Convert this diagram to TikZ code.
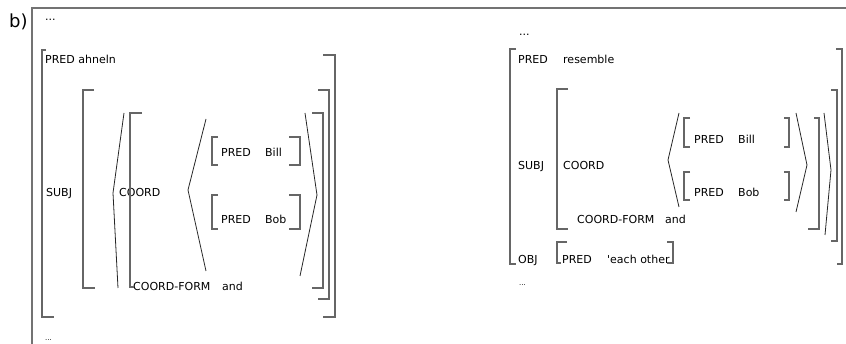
\documentclass[tikz,border=0pt]{standalone}
\usepackage{fontspec}
\setmainfont{DejaVu Sans}
\begin{document}
\begin{tikzpicture}[x=1pt,y=-1pt,
  txt/.style={anchor=base west,inner sep=0pt,font=\fontsize{11}{13}\selectfont},
  small/.style={anchor=base west,inner sep=0pt,font=\fontsize{7}{8}\selectfont},
  brk/.style={draw=black!60,line width=1.1pt},
  ang/.style={draw=black!85,line width=0.8pt},
  frame/.style={draw=black!55,line width=1.3pt}]
\useasboundingbox (0,0) rectangle (846,344);
% frame
\draw[frame] (32,344) -- (32,8) -- (846,8);
\node[anchor=base west,inner sep=0pt,font=\fontsize{18}{20}\selectfont] (lbl) at (9,28) {b)};
% ---------- left structure ----------
\node[txt] (ldots) at (45,21) {...};
\node[txt] (lpred) at (45,64) {PRED ahneln};
\node[txt] (lsubj) at (46,197) {SUBJ};
\node[txt] (lcoord) at (119,197) {COORD};
\node[txt] (lbillp) at (221,157) {PRED};
\node[txt] (lbill) at (265,157) {Bill};
\node[txt] (lbobp) at (221,224) {PRED};
\node[txt] (lbob) at (265,224) {Bob};
\node[txt] (lcf) at (133,291) {COORD-FORM};
\node[txt] (land) at (222,291) {and};
\node[small] (lbdots) at (45,341) {...};
% outer brackets
\draw[brk] (46,50) -- (42,50) -- (42,317) -- (54,317);
\draw[brk] (323,55) -- (335,55) -- (335,317) -- (323,317);
% SUBJ brackets
\draw[brk] (94,90) -- (83,90) -- (83,288) -- (95,288);
\draw[brk] (318,90) -- (329,90) -- (329,299) -- (318,299);
% outer angle (left)
\draw[ang] (124,113) -- (113,193) -- (118,288);
% COORD brackets
\draw[brk] (142,113) -- (130,113) -- (130,287) -- (134,287);
\draw[brk] (312,113) -- (323,113) -- (323,288) -- (312,288);
% inner angles
\draw[ang] (206,119) -- (188,190) -- (206,271);
\draw[ang] (305,113) -- (317,195) -- (300,276);
% Bill / Bob brackets
\draw[brk] (218,137) -- (212,137) -- (212,165) -- (218,165);
\draw[brk] (289,137) -- (300,137) -- (300,165) -- (289,165);
\draw[brk] (218,195) -- (212,195) -- (212,229) -- (218,229);
\draw[brk] (289,195) -- (300,195) -- (300,229) -- (289,229);
% ---------- right structure ----------
\node[txt] (rdots) at (519,36) {...};
\node[txt] (rpredp) at (518,64) {PRED};
\node[txt] (rpred) at (563,64) {resemble};
\node[txt] (rsubj) at (518,170) {SUBJ};
\node[txt] (rcoord) at (563,170) {COORD};
\node[txt] (rbillp) at (694,144) {PRED};
\node[txt] (rbill) at (738,144) {Bill};
\node[txt] (rbobp) at (694,197) {PRED};
\node[txt] (rbob) at (738,197) {Bob};
\node[txt] (rcf) at (577,224) {COORD-FORM};
\node[txt] (rand) at (665,224) {and};
\node[txt] (robj) at (518,264) {OBJ};
\node[txt] (robjp) at (562,264) {PRED};
\node[txt] (rec) at (607,264) {\textquotesingle each other};
\node[small] (rbdots) at (519,286) {...};
% outer brackets
\draw[brk] (516,49) -- (510,49) -- (510,264) -- (516,264);
\draw[brk] (836,49) -- (842,49) -- (842,264) -- (837,264);
% SUBJ bracket left and right
\draw[brk] (568,89) -- (557,89) -- (557,229) -- (568,229);
\draw[brk] (831,90) -- (837,90) -- (837,241) -- (831,241);
% COORD right bracket
\draw[brk] (814,118) -- (819,118) -- (819,229) -- (808,229);
% angles
\draw[ang] (679,113) -- (668,160) -- (679,207);
\draw[ang] (796,113) -- (807,165) -- (796,212);
\draw[ang] (824,113) -- (831,170) -- (825,235);
% Bill / Bob brackets
\draw[brk] (690,118) -- (684,118) -- (684,147) -- (690,147);
\draw[brk] (784,118) -- (789,118) -- (789,147) -- (784,147);
\draw[brk] (690,172) -- (684,172) -- (684,200) -- (690,200);
\draw[brk] (784,172) -- (789,172) -- (789,200) -- (784,200);
% OBJ brackets
\draw[brk] (567,242) -- (557,242) -- (557,263) -- (561,263);
\draw[brk] (667,242) -- (673,242) -- (673,263) -- (667,263);
\end{tikzpicture}
\end{document}
